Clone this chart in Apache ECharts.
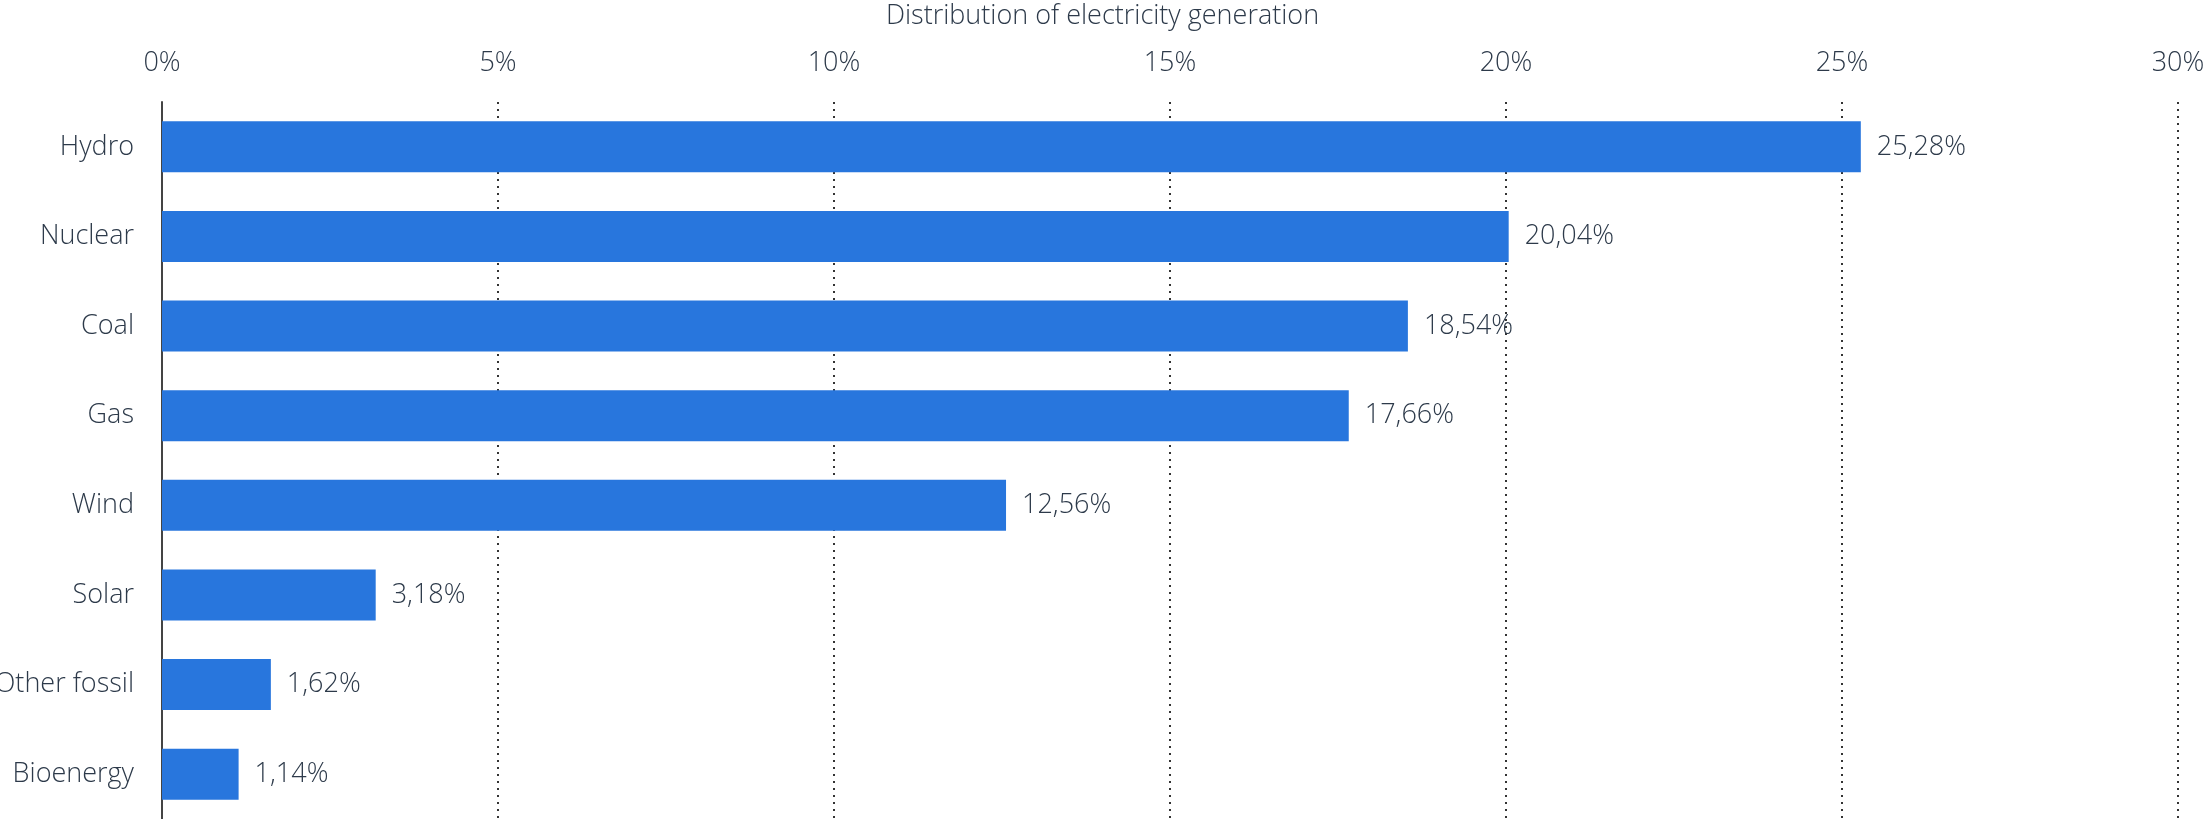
<!DOCTYPE html>
<html>
<head>
<meta charset="utf-8">
<script src="https://cdn.jsdelivr.net/npm/echarts@6/dist/echarts.min.js"></script>
<style>
html,body{margin:0;padding:0;background:#fff;}
#chart{width:2205px;height:819px;}
</style>
</head>
<body>
<div id="chart"></div>
<script>
var categories = ['Hydro', 'Nuclear', 'Coal', 'Gas', 'Wind', 'Solar', 'Other fossil', 'Bioenergy'];
var shares = [25.28, 20.04, 18.54, 17.66, 12.56, 3.18, 1.62, 1.14];
var axisTitle = 'Distribution of electricity generation';

var textColor = '#2d3a4a';
var font = '"Open Sans", "Noto Sans", sans-serif';

var chart = echarts.init(document.getElementById('chart'), null, {renderer: 'canvas'});
chart.setOption({
  animation: false,
  backgroundColor: '#ffffff',
  title: {
    text: axisTitle,
    left: 'center',
    top: -2,
    textStyle: {fontFamily: font, fontWeight: 300, fontSize: 27, color: textColor}
  },
  grid: {left: 162, right: 27, top: 102, bottom: 0, containLabel: false, outerBoundsMode: 'none'},
  xAxis: {
    type: 'value',
    position: 'top',
    min: 0,
    max: 30,
    interval: 5,
    axisLine: {show: false},
    axisTick: {show: false},
    axisLabel: {
      formatter: '{value}%',
      fontFamily: font, fontWeight: 300, fontSize: 27, color: textColor,
      margin: 25
    },
    splitLine: {show: true, lineStyle: {color: '#333333', width: 2, type: [2, 5]}}
  },
  yAxis: {
    type: 'category',
    data: categories,
    inverse: true,
    axisLine: {show: true, lineStyle: {color: '#444444', width: 2}},
    axisTick: {show: false},
    axisLabel: {fontFamily: font, fontWeight: 300, fontSize: 27, color: textColor, margin: 28},
    splitLine: {show: false}
  },
  series: [{
    type: 'bar',
    data: shares,
    barWidth: 51,
    itemStyle: {color: '#2876dd'},
    label: {
      show: true,
      position: 'right',
      distance: 16,
      fontFamily: font, fontWeight: 300, fontSize: 27, color: textColor,
      formatter: function (p) { return p.value.toFixed(2).replace('.', ',') + '%'; }
    }
  }]
});
</script>
</body>
</html>
